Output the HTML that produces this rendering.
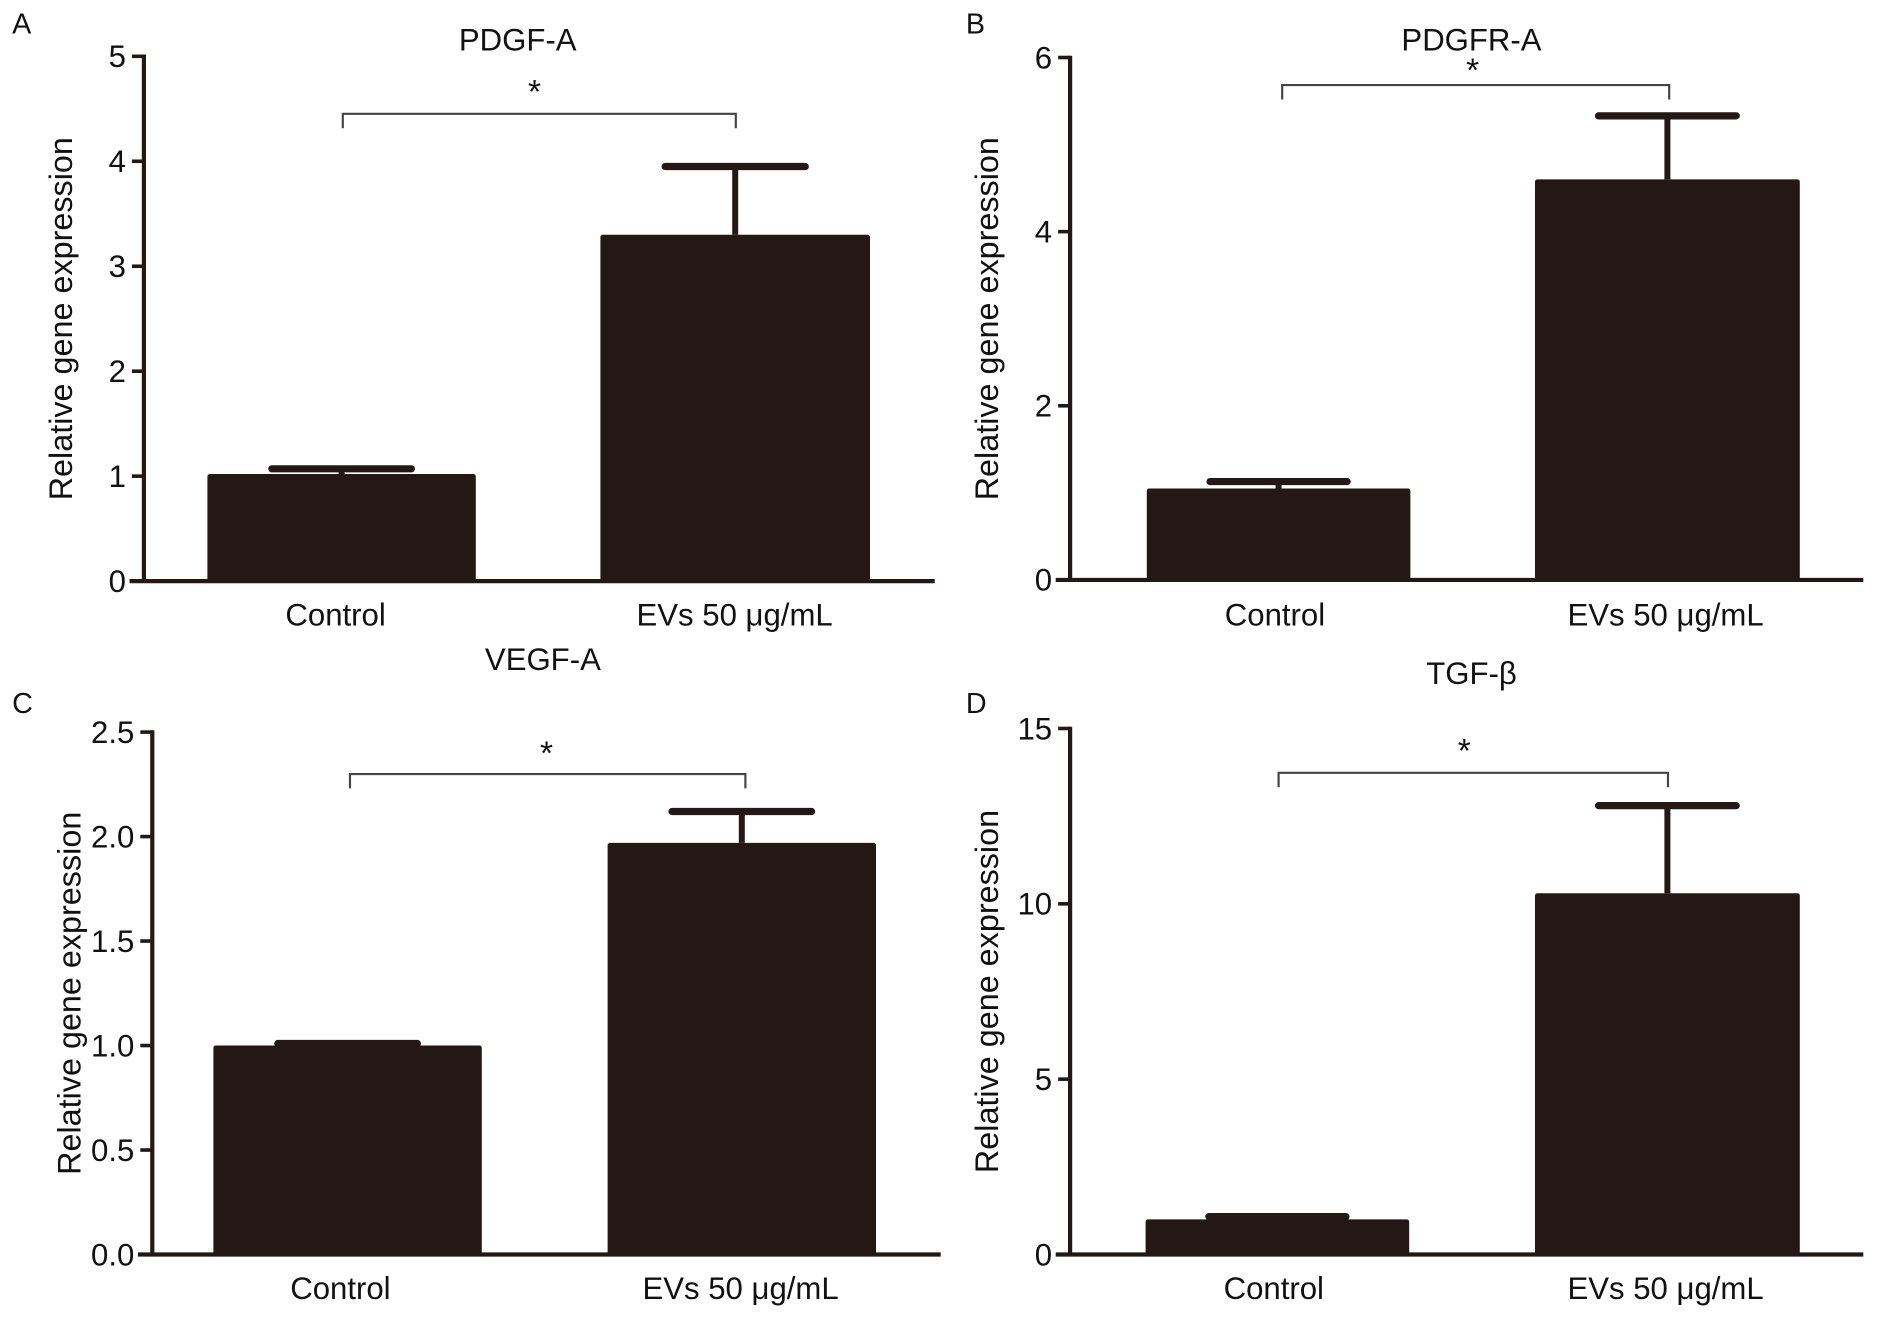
<!DOCTYPE html>
<html><head><meta charset="utf-8"><style>
html,body{margin:0;padding:0;background:#fff;}
svg{display:block;font-family:"Liberation Sans",Arial,sans-serif;}
</style></head><body>
<svg id="fig" width="1879" height="1318" viewBox="0 0 1568 1100" xmlns="http://www.w3.org/2000/svg"></svg>
<script>
const categories = ["Control", "EVs 50 \u03bcg/mL"];
const titles = ["PDGF-A", "PDGFR-A", "VEGF-A", "TGF-\u03b2"];
const letters = ["A", "B", "C", "D"];
const meansA = [1.02, 3.3];
const errsA = [1.07, 3.95];
const meansB = [1.05, 4.6];
const errsB = [1.13, 5.33];
const meansC = [1.0, 1.97];
const errsC = [1.01, 2.12];
const meansD = [1.0, 10.3];
const errsD = [1.08, 12.8];
const ticksA = [0, 1, 2, 3, 4, 5];
const ticksB = [0, 2, 4, 6];
const ticksC = ["0.0", "0.5", "1.0", "1.5", "2.0", "2.5"];
const ticksD = [0, 5, 10, 15];

const NS = "http://www.w3.org/2000/svg";
const svg = document.getElementById("fig");
const COL = "#231815";
function mk(tag, attrs, parent) {
  const e = document.createElementNS(NS, tag);
  for (const k in attrs) e.setAttribute(k, attrs[k]);
  (parent || svg).appendChild(e);
  return e;
}
function txt(s, x, y, size, anchor, parent) {
  const t = mk("text", {x: x, y: y, "font-size": size, "text-anchor": anchor || "middle", fill: "#111"}, parent);
  t.textContent = s;
  return t;
}
const panels = [
  {means: meansA, errs: errsA, ticks: ticksA, ax: 120, y0: 485, yTop: 47, ymax: 5, xEnd: 780, bars: [[173, 397], [501, 726]], br: 95, brx: [286, 614], star: [446, 86], title: [432, 42], lab: 522, labx: [280, 613], letter: [10, 28]},
  {means: meansB, errs: errsB, ticks: ticksB, ax: 893, y0: 484, yTop: 48, ymax: 6, xEnd: 1555, bars: [[957, 1177], [1281, 1502]], br: 71, brx: [1070, 1393], star: [1229, 68], title: [1228, 42], lab: 522, labx: [1064, 1390], letter: [806, 28]},
  {means: meansC, errs: errsC, ticks: ticksC, ax: 127, y0: 1047, yTop: 611, ymax: 2.5, xEnd: 785, bars: [[178, 402], [507, 731]], br: 646, brx: [292, 622], star: [456, 638], title: [453, 559], lab: 1084, labx: [284, 618], letter: [10, 595]},
  {means: meansD, errs: errsD, ticks: ticksD, ax: 893, y0: 1047, yTop: 608, ymax: 15, xEnd: 1555, bars: [[956, 1176], [1281, 1502]], br: 645, brx: [1067, 1392], star: [1222, 636], title: [1228, 571], lab: 1084, labx: [1063, 1390], letter: [806, 595]}
];
panels.forEach((p, i) => {
  const g = mk("g", {});
  
  
  const y = v => p.y0 - (v / p.ymax) * (p.y0 - p.yTop);
  const lt = txt(letters[i], p.letter[0], p.letter[1], 24, "start", g);
  
  
  const tt = txt(titles[i], p.title[0], p.title[1], 26, "middle", g);
  
  
  p.means.forEach((m, j) => {
    const [x1, x2] = p.bars[j];
    const cx = (x1 + x2) / 2, cap = (x2 - x1) * 0.26;
    const eb = mk("g", {}, g);
    
    
    mk("line", {x1: cx, x2: cx, y1: y(m), y2: y(p.errs[j]), stroke: COL, "stroke-width": 5}, eb);
    mk("line", {x1: cx - cap, x2: cx + cap, y1: y(p.errs[j]), y2: y(p.errs[j]), stroke: COL, "stroke-width": 6, "stroke-linecap": "round"}, eb);
    const r = mk("rect", {x: x1, y: y(m), width: x2 - x1, height: p.y0 - y(m), fill: COL, rx: 2}, g);
    
    
    const cl = txt(categories[j], p.labx[j], p.lab, 26, "middle", g);
    
    
  });
  const ya = mk("line", {x1: p.ax, x2: p.ax, y1: p.yTop - 1.5, y2: p.y0 + 1.5, stroke: COL, "stroke-width": 3.5}, g);
  
  
  const xa = mk("line", {x1: p.ax - 12, x2: p.xEnd, y1: p.y0, y2: p.y0, stroke: COL, "stroke-width": 3.5}, g);
  
  
  p.ticks.forEach(t => {
    const v = parseFloat(t);
    mk("line", {x1: p.ax - 10, x2: p.ax, y1: y(v), y2: y(v), stroke: COL, "stroke-width": 3}, g);
    const tl = txt(String(t), p.ax - 15, y(v) + 9, 26, "end", g);
    
    
  });
  const yl = txt("Relative gene expression", 0, 0, 27, "middle", g);
  yl.setAttribute("transform", "translate(" + (p.ax - 60) + "," + ((p.y0 + p.yTop) / 2) + ") rotate(-90)");
  
  
  const bk = mk("path", {d: "M" + p.brx[0] + "," + (p.br + 12) + "V" + p.br + "H" + p.brx[1] + "V" + (p.br + 12), fill: "none", stroke: "#444", "stroke-width": 1.8}, g);
  
  
  const st = txt("*", p.star[0], p.star[1], 28, "middle", g);
  
  
});
</script>
</body></html>
